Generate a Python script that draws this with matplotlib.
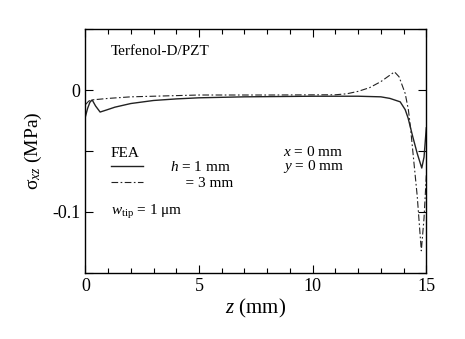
import matplotlib
matplotlib.use('Agg')
import matplotlib.pyplot as plt
from matplotlib.lines import Line2D

plt.rcParams['font.family'] = ['Liberation Serif', 'DejaVu Serif']
plt.rcParams['mathtext.fontset'] = 'custom'
plt.rcParams['mathtext.rm'] = 'Liberation Serif'
plt.rcParams['mathtext.it'] = 'Liberation Serif:italic'

# h = 1 mm (solid)
z1 = [0, 0.1, 0.2, 0.3, 0.45, 0.65, 0.9, 1.3, 2, 3, 4, 5, 7, 10, 12, 13,
      13.4, 13.85, 14.07, 14.2, 14.4, 14.6, 14.8, 14.9, 15.0]
s1 = [-0.022, -0.015, -0.010, -0.008, -0.013, -0.018, -0.0165, -0.014, -0.011,
      -0.0085, -0.0072, -0.0063, -0.0055, -0.005, -0.005, -0.0055,
      -0.0068, -0.0096, -0.016, -0.023, -0.038, -0.052, -0.064, -0.055, -0.031]

# h = 3 mm (dash-dot)
z3 = [0, 0.15, 0.3, 0.6, 1, 2, 3, 4, 5, 8, 11, 11.5, 12, 12.5, 13, 13.3,
      13.6, 13.8, 14.07, 14.21, 14.3, 14.4, 14.6, 14.78, 14.9, 15.0]
s3 = [-0.012, -0.009, -0.008, -0.0075, -0.0068, -0.0055, -0.005, -0.0045,
      -0.004, -0.004, -0.0038, -0.003, -0.001, 0.002, 0.007, 0.011,
      0.015, 0.011, -0.0027, -0.016, -0.030, -0.049, -0.087, -0.132, -0.105, -0.07]

dashdot = (0, (6, 2.2, 1.5, 2.2))

fig = plt.figure(figsize=(4.65, 3.39), dpi=100)
ax = fig.add_axes([0.1835, 0.1956, 0.7333, 0.718])

ax.plot(z1, s1, color='#222222', lw=1.0)
ax.plot(z3, s3, color='#222222', lw=0.8, linestyle=dashdot)

ax.set_xlim(0, 15)
ax.set_ylim(-0.15, 0.05)
ax.set_xticks([0, 5, 10, 15])
ax.set_xticks(range(16), minor=True)
ax.set_yticks([-0.15, -0.1, -0.05, 0, 0.05])
ax.set_yticklabels(['', '-0.1', '', '0', ''])
ax.tick_params(which='both', direction='in', top=True, right=True, labelsize=13, width=0.8)
ax.tick_params(which='major', length=6)
ax.tick_params(which='minor', length=3.5)
for sp in ax.spines.values():
    sp.set_linewidth(1.0)

ax.set_xlabel('$z$ (mm)', fontsize=15, labelpad=2)
ax.set_ylabel(r'σ$_{xz}$ (MPa)', fontsize=14, labelpad=6)

ax.text(1.13, 0.0314, 'Terfenol-D/PZT', fontsize=11, va='center')
ax.text(8.69, -0.0506, '$x$ = 0 mm', fontsize=11, va='center')
ax.text(8.69, -0.0629, '$y$ = 0 mm', fontsize=11, va='center')
ax.text(1.13, -0.1003, r'$w_{\mathrm{tip}}$ = 1 μm', fontsize=11, va='center')

handles = [Line2D([], [], color='#222222', lw=1.0),
           Line2D([], [], color='#222222', lw=0.8, linestyle=dashdot)]
leg = ax.legend(handles, ['$h$ = 1 mm', '    = 3 mm'], title='FEA', title_fontsize=11,
                fontsize=11, frameon=False, loc='upper left',
                bbox_to_anchor=(0.075, 0.515), handlelength=2.1, handletextpad=1.8,
                labelspacing=0.15, borderpad=0, borderaxespad=0)
leg._legend_box.align = 'left'
leg._legend_box.sep = 0

fig.savefig('out.png', dpi=100)
